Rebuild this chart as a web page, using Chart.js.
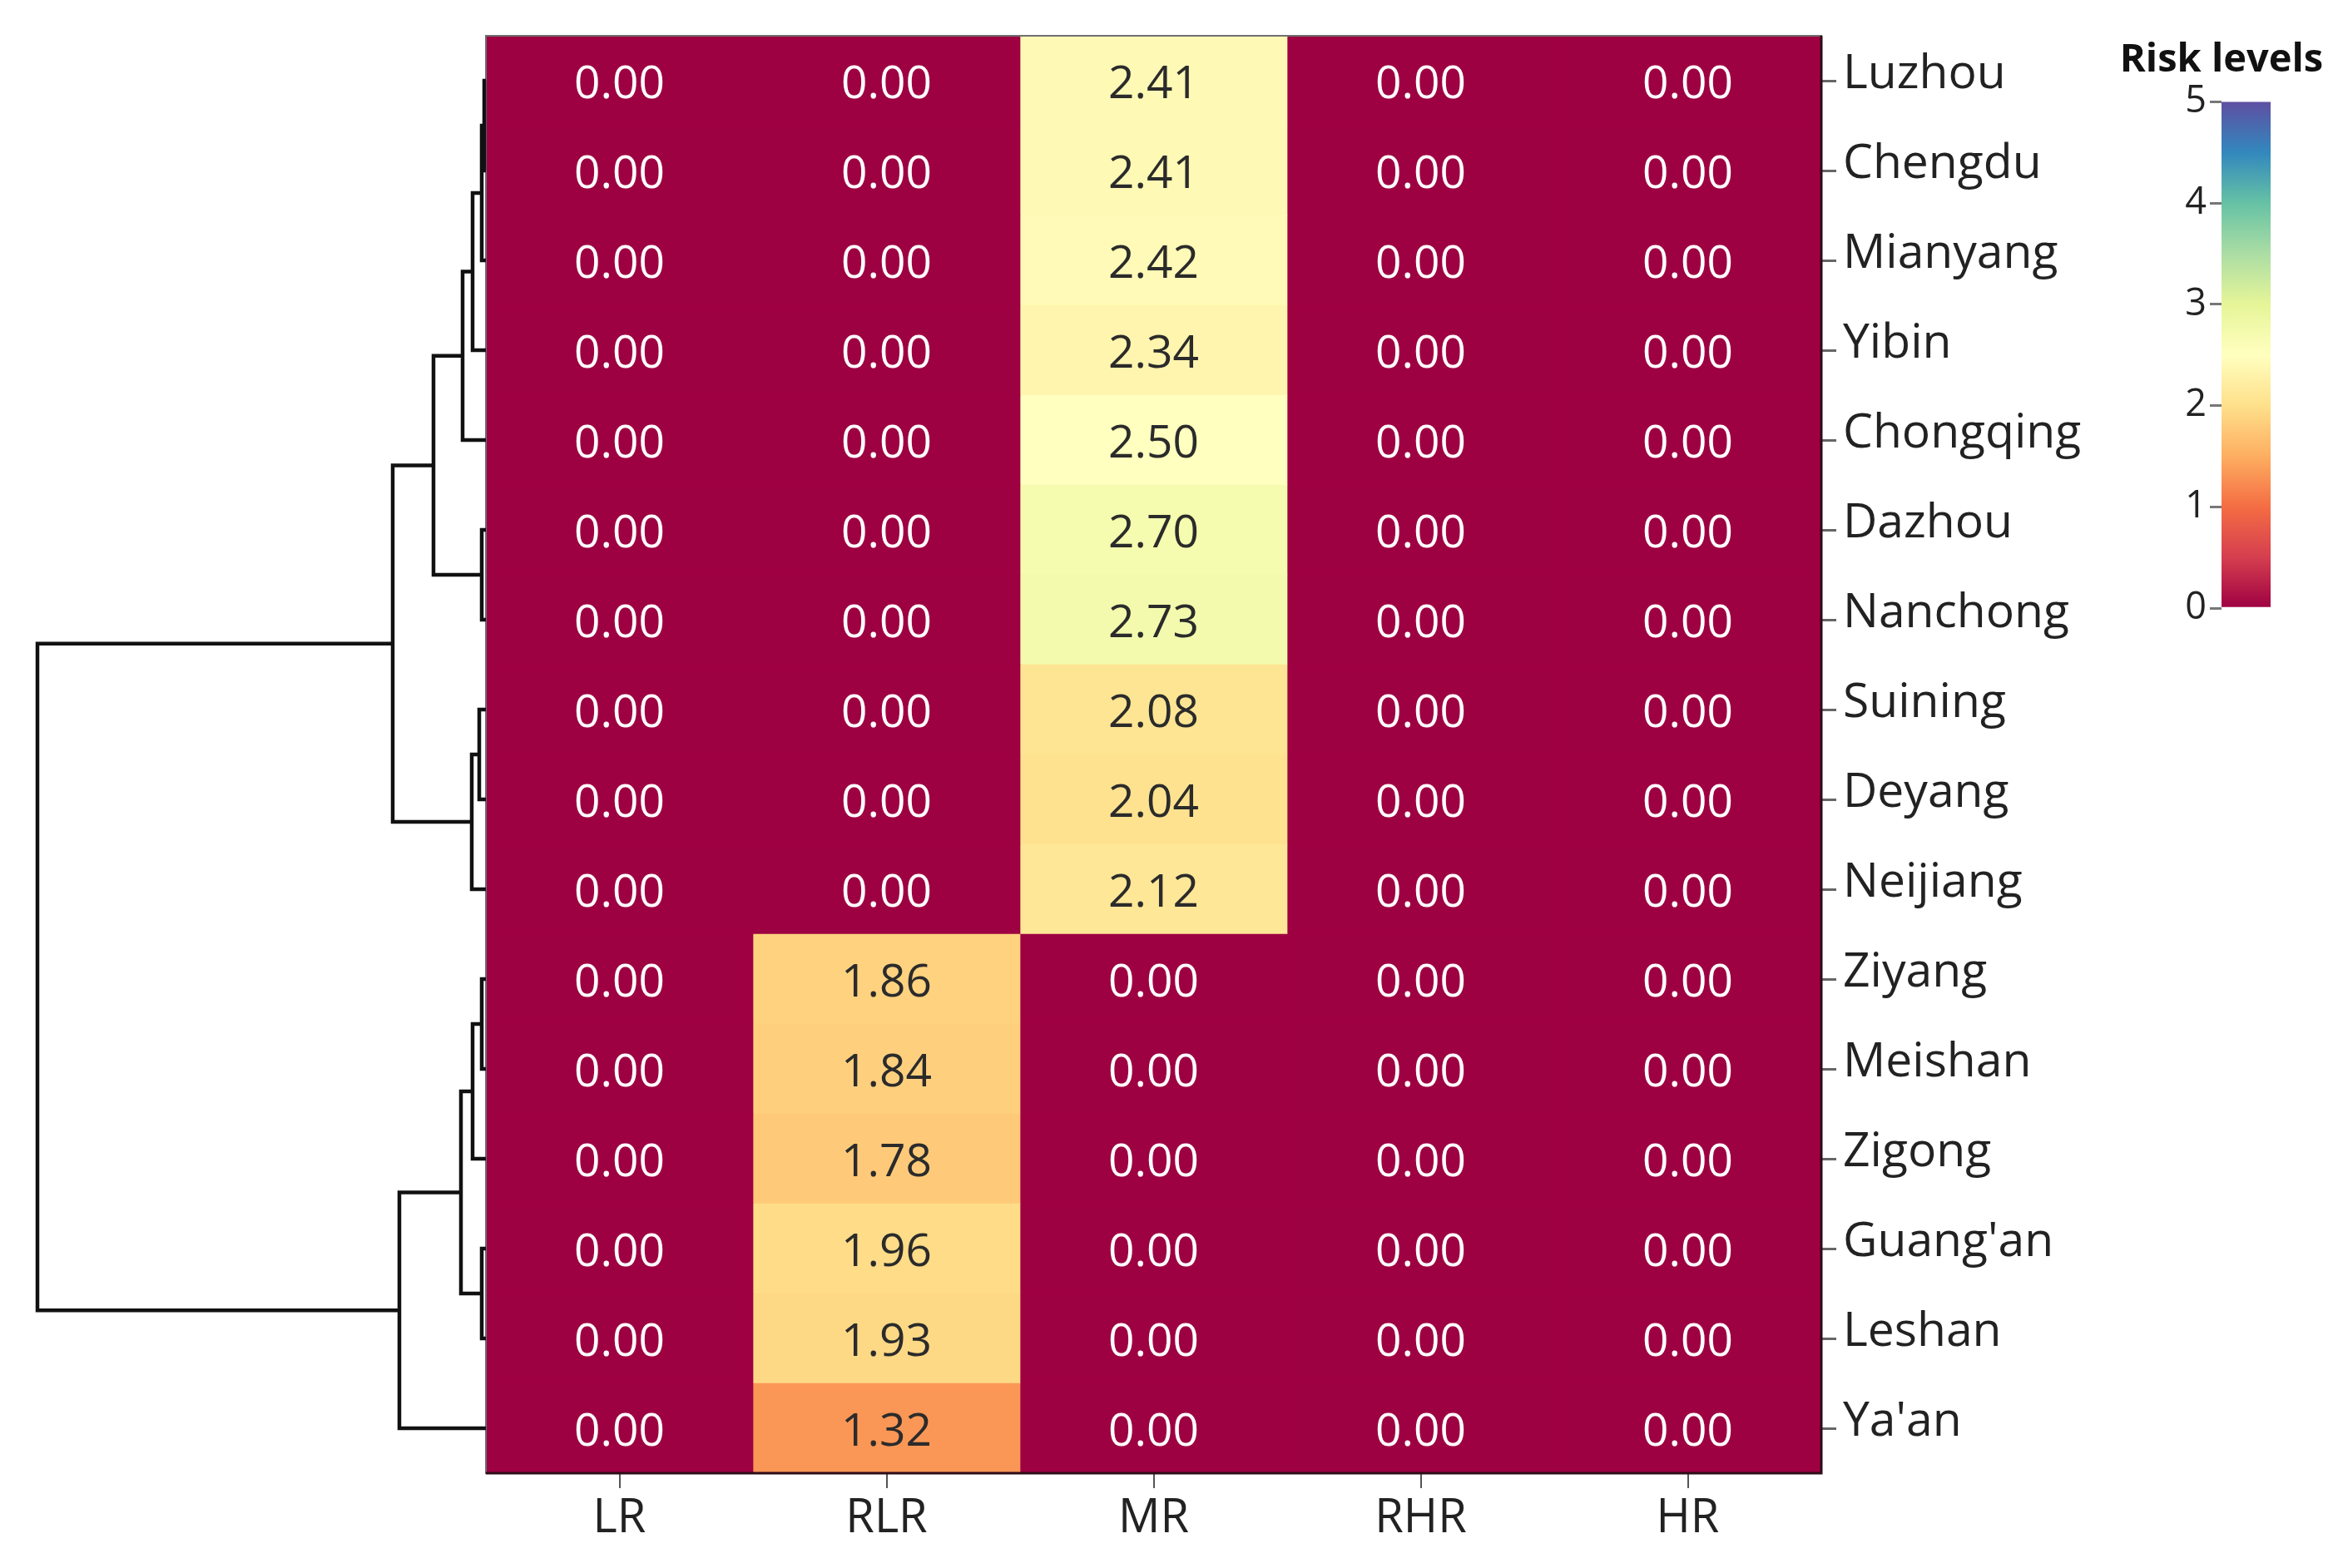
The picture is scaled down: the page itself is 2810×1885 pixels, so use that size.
<!DOCTYPE html>
<html>
<head>
<meta charset="utf-8">
<script src="https://cdn.jsdelivr.net/npm/chart.js@4.4.1/dist/chart.umd.min.js"></script>
<style>
html,body{margin:0;padding:0;background:#fff;}
#wrap{position:relative;width:2810px;height:1885px;overflow:hidden;background:#fff;}
canvas{position:absolute;}
</style>
</head>
<body>
<div id="wrap">
<canvas id="heat" width="2810" height="1885" style="left:0;top:0;width:2810px;height:1885px"></canvas>
<canvas id="dendro" width="600" height="1885" style="left:0;top:0;width:600px;height:1885px"></canvas>
<canvas id="cbar" width="270" height="727" style="left:2535px;top:44px;width:270px;height:727px"></canvas>
</div>
<script>
// ---------------- data ----------------
const cities = ['Luzhou','Chengdu','Mianyang','Yibin','Chongqing','Dazhou','Nanchong','Suining','Deyang','Neijiang','Ziyang','Meishan','Zigong',"Guang'an",'Leshan',"Ya'an"];
const riskClasses = ['LR','RLR','MR','RHR','HR'];
const LR  = [0,0,0,0,0,0,0,0,0,0,0,0,0,0,0,0];
const RLR = [0,0,0,0,0,0,0,0,0,0,1.86,1.84,1.78,1.96,1.93,1.32];
const MR  = [2.41,2.41,2.42,2.34,2.50,2.70,2.73,2.08,2.04,2.12,0,0,0,0,0,0];
const RHR = [0,0,0,0,0,0,0,0,0,0,0,0,0,0,0,0];
const HR  = [0,0,0,0,0,0,0,0,0,0,0,0,0,0,0,0];
const series = [LR, RLR, MR, RHR, HR];
const colorbarTicks = [0,1,2,3,4,5];
const cbMin = 0, cbMax = 5;
// dendrogram linkage (leaf ids 0..15 = row order, merged clusters 16..)
const mergeA = [0, 16, 17, 18, 5, 19, 7, 22, 21, 10, 25, 13, 26, 28, 24];
const mergeB = [1, 2, 3, 4, 6, 20, 8, 9, 23, 11, 12, 14, 27, 15, 29];
const mergeH = [0.02, 0.05, 0.16, 0.28, 0.05, 0.63, 0.08, 0.17, 1.12, 0.05, 0.16, 0.05, 0.30, 1.04, 5.39];

// ---------------- style ----------------
const FONT = '"Open Sans", "Noto Sans", sans-serif';
const spectralStops = ['#9e0142','#d53e4f','#f46d43','#fdae61','#fee08b','#ffffbf','#e6f598','#abdda4','#66c2a5','#3288bd','#5e4fa2'];
function hex2rgb(h){return [parseInt(h.slice(1,3),16),parseInt(h.slice(3,5),16),parseInt(h.slice(5,7),16)];}
function spectral(t){
  t = Math.max(0, Math.min(1, t));
  const n = spectralStops.length - 1;
  const k = Math.min(n - 1, Math.floor(t * n));
  const f = t * n - k;
  const a = hex2rgb(spectralStops[k]), b = hex2rgb(spectralStops[k+1]);
  const c = a.map((v,i)=>Math.round(v + (b[i]-v)*f));
  return `rgb(${c[0]},${c[1]},${c[2]})`;
}
function norm(v){return (v - cbMin)/(cbMax - cbMin);}
function textColor(v){const t = norm(v); return (t < 0.15 || t > 0.85) ? '#ffffff' : '#2b2b2b';}

Chart.defaults.font.family = FONT;
Chart.defaults.color = '#222';

// ---------------- heatmap ----------------
const cellText = {
  id: 'cellText',
  afterDatasetsDraw(chart){
    const ctx = chart.ctx;
    ctx.save();
    ctx.font = '55px ' + FONT;
    ctx.textAlign = 'center';
    ctx.textBaseline = 'middle';
    chart.data.datasets.forEach((ds, j) => {
      chart.getDatasetMeta(j).data.forEach((el, i) => {
        const p = el.getProps(['x','base','y'], true);
        const v = ds.values[i];
        ctx.fillStyle = textColor(v);
        ctx.fillText(v.toFixed(2), (p.x + p.base)/2, p.y + 5);
      });
    });
    // frame
    const a = chart.chartArea;
    ctx.strokeStyle = '#707070';
    ctx.lineWidth = 2;
    ctx.strokeRect(a.left, a.top, a.right - a.left, a.bottom - a.top);
    ctx.strokeStyle = '#2e0c18';
    ctx.lineWidth = 3;
    ctx.beginPath();
    ctx.moveTo(a.left, a.bottom); ctx.lineTo(a.right, a.bottom); ctx.lineTo(a.right, a.top);
    ctx.stroke();
    ctx.restore();
  }
};

new Chart(document.getElementById('heat'), {
  type: 'bar',
  data: {
    labels: cities,
    datasets: riskClasses.map((name, j) => ({
      label: name,
      data: cities.map(() => [j, j + 1]),
      values: series[j],
      backgroundColor: series[j].map(v => spectral(norm(v))),
      borderWidth: 0,
      barPercentage: 1,
      categoryPercentage: 1,
      grouped: false
    }))
  },
  options: {
    indexAxis: 'y',
    responsive: false,
    animation: false,
    events: [],
    layout: { padding: { left: 584, top: 43, right: 271, bottom: 0 } },
    plugins: { legend: { display: false }, tooltip: { enabled: false } },
    scales: {
      x: {
        type: 'linear', position: 'bottom', min: 0, max: riskClasses.length,
        afterBuildTicks: s => { s.ticks = riskClasses.map((_, j) => ({ value: j + 0.5 })); },
        afterFit: s => { s.height = 114; },
        ticks: { autoSkip: false, maxRotation: 0, padding: 3, color: '#222',
                 font: { size: 56, family: FONT },
                 callback: (v, i) => riskClasses[i] },
        grid: { drawOnChartArea: false, tickLength: 18, color: '#555', lineWidth: 2 },
        border: { display: false }
      },
      y: {
        type: 'category', position: 'right',
        afterFit: s => { s.width = 350; },
        ticks: { autoSkip: false, padding: 8, labelOffset: -7, color: '#222', font: { size: 57, family: FONT } },
        grid: { drawOnChartArea: false, offset: false, tickLength: 18, color: '#666', lineWidth: 3 },
        border: { display: false }
      }
    }
  },
  plugins: [cellText]
});

// ---------------- dendrogram ----------------
const pos = {};
cities.forEach((c, i) => { pos[i] = { y: i + 0.5, h: 0 }; });
const segments = [];
mergeA.forEach((a, k) => {
  const b = mergeB[k], h = mergeH[k];
  const pa = pos[a], pb = pos[b];
  segments.push([{x: pa.h, y: pa.y}, {x: h, y: pa.y}, {x: h, y: pb.y}, {x: pb.h, y: pb.y}]);
  pos[cities.length + k] = { y: (pa.y + pb.y)/2, h: h };
});
new Chart(document.getElementById('dendro'), {
  type: 'scatter',
  data: {
    datasets: segments.map(pts => ({
      data: pts, showLine: true, pointRadius: 0, borderColor: '#111',
      borderWidth: 4.5, clip: false, tension: 0, fill: false
    }))
  },
  options: {
    responsive: false, animation: false, events: [],
    layout: { padding: { left: 45, right: 16, top: 43, bottom: 114 } },
    plugins: { legend: { display: false }, tooltip: { enabled: false } },
    scales: {
      x: { type: 'linear', reverse: true, min: 0, max: Math.max(...mergeH), display: false },
      y: { type: 'linear', reverse: true, min: 0, max: cities.length, display: false }
    }
  }
});

// ---------------- colorbar ----------------
new Chart(document.getElementById('cbar'), {
  type: 'bar',
  data: {
    labels: [''],
    datasets: [{
      data: [[cbMin, cbMax]],
      borderWidth: 0,
      barPercentage: 1, categoryPercentage: 1,
      backgroundColor: (c) => {
        const ch = c.chart;
        if (!ch.chartArea) return spectral(0);
        const ys = ch.scales.y;
        const g = ch.ctx.createLinearGradient(0, ys.getPixelForValue(cbMin), 0, ys.getPixelForValue(cbMax));
        spectralStops.forEach((col, k) => g.addColorStop(k/(spectralStops.length - 1), col));
        return g;
      }
    }]
  },
  options: {
    responsive: false, animation: false, events: [],
    layout: { padding: { left: 0, right: 0, top: 0, bottom: 40 } },
    plugins: {
      legend: { display: false }, tooltip: { enabled: false },
      title: { display: true, text: 'Risk levels', color: '#111',
               font: { size: 47, weight: 'bold', family: FONT },
               padding: { top: 0, bottom: 22 } }
    },
    scales: {
      x: { type: 'category', display: false },
      y: {
        type: 'linear', position: 'left', min: cbMin, max: cbMax,
        afterBuildTicks: s => { s.ticks = colorbarTicks.map(v => ({ value: v })); },
        afterFit: s => { s.width = 135; },
        ticks: { color: '#222', padding: 4, font: { size: 45, family: FONT } },
        grid: { drawOnChartArea: false, tickLength: 14, color: '#777', lineWidth: 3 },
        border: { display: false }
      },
      y2: {
        type: 'linear', position: 'right', min: 0, max: 1,
        afterFit: s => { s.width = 76; },
        ticks: { display: false },
        grid: { display: false },
        border: { display: false }
      }
    }
  }
});
</script>
</body>
</html>
